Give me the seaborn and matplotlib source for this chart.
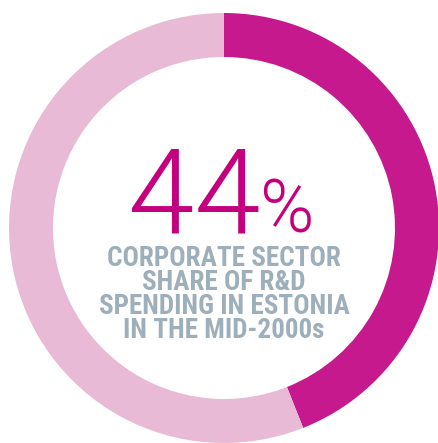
import matplotlib
matplotlib.use("Agg")
import matplotlib.pyplot as plt
import seaborn as sns

# Data
categories = ["Corporate sector", "Other sectors"]
shares = [44, 56]
colors = ["#C5198D", "#E8BAD6"]
headline_number = "44"
headline_unit = "%"
subtitle_lines = ["CORPORATE SECTOR", "SHARE OF R&D", "SPENDING IN ESTONIA", "IN THE MID-2000s"]

sns.set_theme(style="white")
cond = ["Roboto Condensed", "Barlow Condensed", "DejaVu Sans"]
regular = ["Roboto", "DejaVu Sans"]
plt.rcParams["font.family"] = cond

W, H = 438, 443
fig = plt.figure(figsize=(W / 100, H / 100), dpi=100)
ax = fig.add_axes([0, 0, 1, 1])

cx, cy = 224, H - 228
ax.pie(shares, colors=colors, startangle=90, counterclock=False,
       center=(cx, cy), radius=215, wedgeprops=dict(width=44, linewidth=0),
       frame=True)
ax.set_xlim(0, W)
ax.set_ylim(0, H)
ax.set_aspect("equal")
ax.axis("off")

ax.text(261, H - 232, headline_number, ha="right", va="baseline",
        fontsize=86, color="#C4007F", family=regular, fontweight=300)
ax.text(260, H - 232, headline_unit, ha="left", va="baseline",
        fontsize=53, color="#C4007F", family=regular, fontweight=300)

ax.text(cx, H - 245, "\n".join(subtitle_lines), ha="center", va="top",
        fontsize=19.5, color="#9DAFBA", fontweight="bold", linespacing=0.86)

fig.savefig("out.png", dpi=100)
